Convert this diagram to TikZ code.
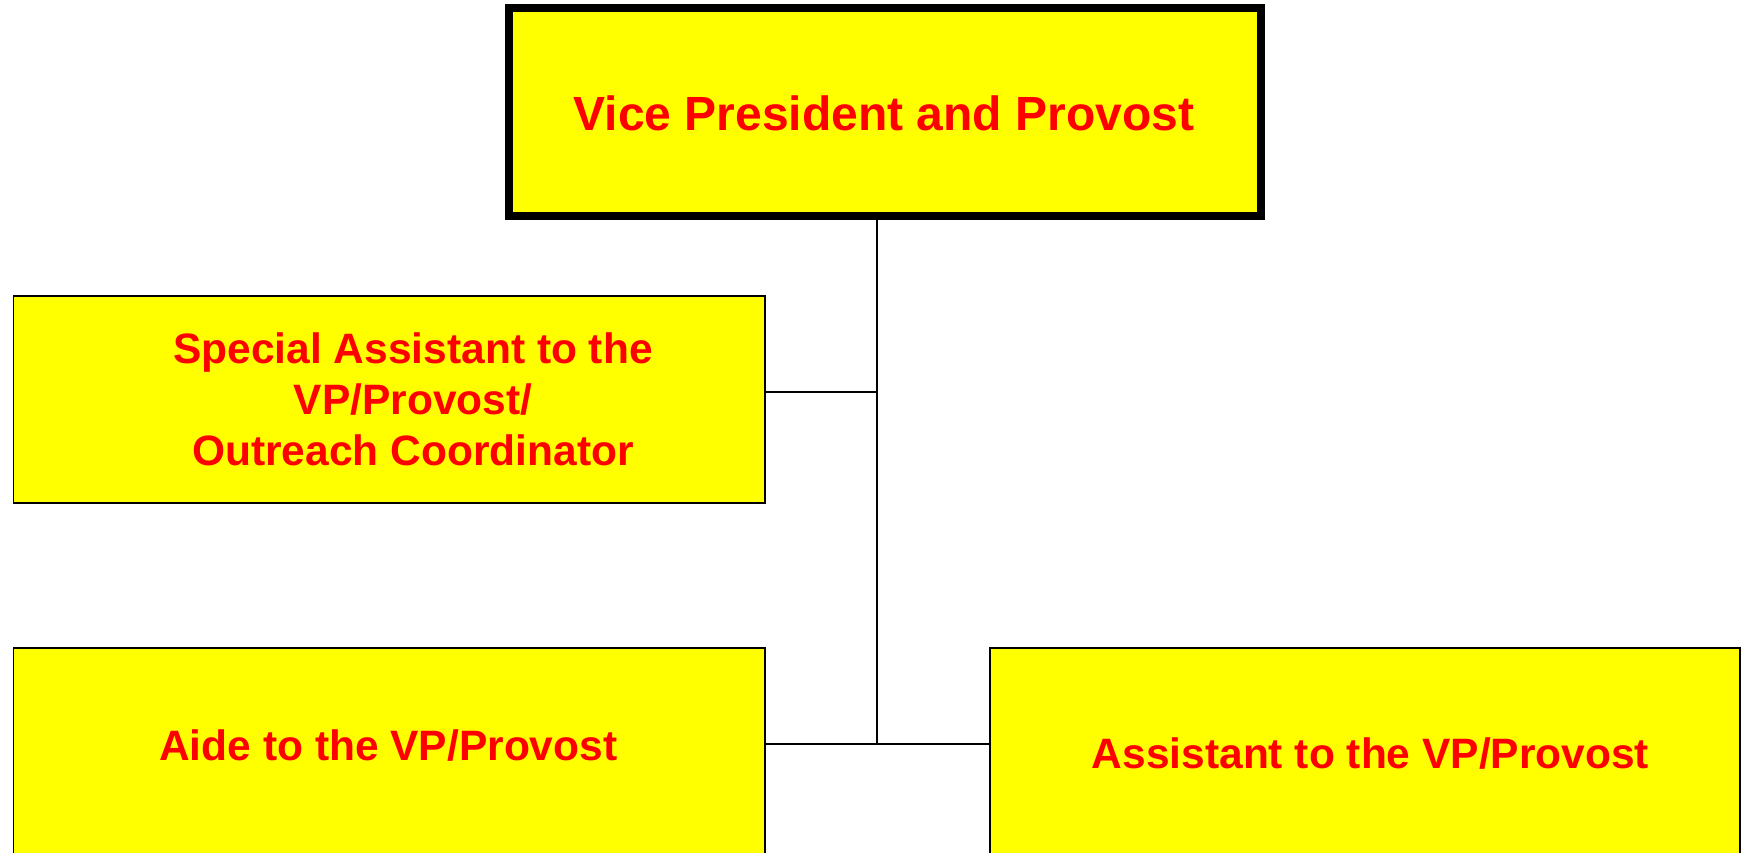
\documentclass[tikz,border=0pt]{standalone}
\usepackage{fontspec}
\setmainfont{Liberation Sans}
\definecolor{boxyellow}{HTML}{FFFF00}
\definecolor{boxred}{HTML}{FF0000}
\begin{document}
\begin{tikzpicture}[x=1pt,y=-1pt,
  box/.style={draw=black,fill=boxyellow,line width=1.8pt,minimum width=751.6pt,minimum height=206.6pt,inner sep=0pt},
  topbox/.style={draw=black,fill=boxyellow,line width=8pt,minimum width=752.5pt,minimum height=208pt,inner sep=0pt},
  lbl/.style={text=boxred,font=\bfseries\fontsize{42.5}{51}\selectfont,inner sep=0pt,align=center},
  toplbl/.style={text=boxred,font=\bfseries\fontsize{48}{56}\selectfont,inner sep=0pt},
  conn/.style={draw=black,line width=1.8pt}]
\useasboundingbox (0,0) rectangle (1750,852);
\clip (0,0) rectangle (1750,852);
\fill[white] (0,0) rectangle (1750,852);
% boxes
\node[topbox] (vp) at (884.75,112) {};
\node[box] (sp) at (389.3,399.5) {};
\node[box] (aide) at (389.3,751.5) {};
\node[box,minimum width=750.4pt] (asst) at (1364.9,751.5) {};
% labels
\node[toplbl,anchor=base] (vpt) at (884,130) {Vice President and Provost};
\node[lbl] (spt) at (413,399) {Special Assistant to the\\VP/Provost/\\Outreach Coordinator};
\node[lbl,anchor=base] (aidet) at (388.3,760.7) {Aide to the VP/Provost};
\node[lbl,anchor=base] (asstt) at (1370.5,768.3) {Assistant to the VP/Provost};
% connectors
\coordinate (j1) at (877,392);
\coordinate (j2) at (877,744);
\draw[conn] (vp.south -| j1) -- (j2);
\draw[conn] (sp.east |- j1) -- (j1);
\draw[conn] (aide.east |- j2) -- (asst.west |- j2);
\end{tikzpicture}
\end{document}
